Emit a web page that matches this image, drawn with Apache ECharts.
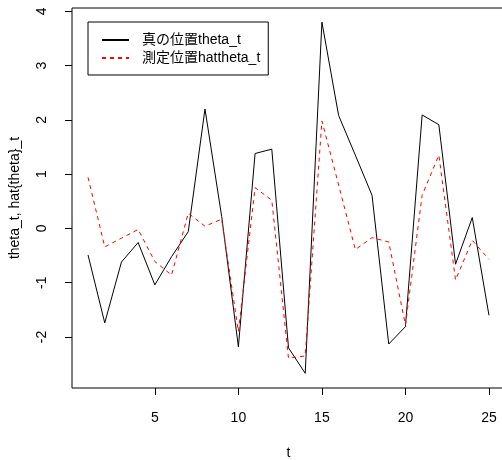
<!DOCTYPE html>
<html>
<head>
<meta charset="utf-8">
<script src="https://cdn.jsdelivr.net/npm/echarts@6/dist/echarts.min.js"></script>
<style>
html,body{margin:0;padding:0;background:#fff;}
#c{width:502px;height:460px;}
</style>
</head>
<body>
<div id="c"></div>
<script>
var t = [1,2,3,4,5,6,7,8,9,10,11,12,13,14,15,16,17,18,19,20,21,22,23,24,25];
var thetaTrue = [-0.49,-1.74,-0.62,-0.26,-1.04,-0.52,-0.06,2.20,0.22,-2.18,1.38,1.46,-2.20,-2.67,3.80,2.08,1.35,0.61,-2.13,-1.81,2.09,1.91,-0.66,0.20,-1.60];
var thetaHat = [0.94,-0.34,-0.18,-0.02,-0.61,-0.86,0.28,0.04,0.17,-1.90,0.75,0.52,-2.39,-2.35,1.98,0.80,-0.39,-0.17,-0.25,-1.78,0.61,1.35,-0.95,-0.22,-0.57];
var xTicks = [5,10,15,20,25];
var yTicks = [-2,-1,0,1,2,3,4];
var seriesNames = ['真の位置theta_t','測定位置hattheta_t'];

function pairs(ys){ return t.map(function(x,i){ return [x, ys[i]]; }); }

var font = 'Liberation Sans, Arial, "Noto Sans CJK JP", sans-serif';
var chart = echarts.init(document.getElementById('c'), null, {renderer:'canvas'});
chart.setOption({
  backgroundColor:'#fff',
  animation:false,
  textStyle:{fontFamily:font},
  grid:{left:72, top:8, width:433, height:380, show:true, borderColor:'#000', borderWidth:1, backgroundColor:'transparent', containLabel:false, outerBoundsMode:'none'},
  legend:{
    orient:'vertical', left:88, top:22,
    itemWidth:27, itemHeight:14, itemGap:4,
    padding:[11,8,10,13],
    borderColor:'#000', borderWidth:1,
    itemStyle:{opacity:0},
    textStyle:{fontSize:14, color:'#000', fontFamily:font, padding:[0,0,0,8]},
    data:seriesNames
  },
  xAxis:{
    type:'value', min:0.04, max:25.96,
    name:'t', nameLocation:'middle', nameGap:58,
    nameTextStyle:{fontSize:14, color:'#000'},
    axisLine:{show:false, onZero:false},
    axisTick:{show:true, inside:false, length:7, lineStyle:{color:'#000'}, customValues:xTicks},
    axisLabel:{fontSize:14, color:'#000', margin:23, customValues:xTicks},
    splitLine:{show:false}
  },
  yAxis:{
    type:'value', min:-2.94, max:4.06,
    name:'theta_t, hat{theta}_t', nameLocation:'middle', nameGap:50, nameRotate:90,
    nameTextStyle:{fontSize:14, color:'#000'},
    axisLine:{show:false, onZero:false},
    axisTick:{show:true, inside:false, length:7, lineStyle:{color:'#000'}, customValues:yTicks},
    axisLabel:{fontSize:14, color:'#000', margin:23, rotate:90, customValues:yTicks},
    splitLine:{show:false}
  },
  series:[
    {name:seriesNames[0], type:'line', data:pairs(thetaTrue), symbol:'none', lineStyle:{color:'#000', width:1}, itemStyle:{color:'#000'}},
    {name:seriesNames[1], type:'line', data:pairs(thetaHat), symbol:'none', lineStyle:{color:'#ff0000', width:1, type:[4,4]}, itemStyle:{color:'#ff0000'}}
  ]
});
</script>
</body>
</html>
